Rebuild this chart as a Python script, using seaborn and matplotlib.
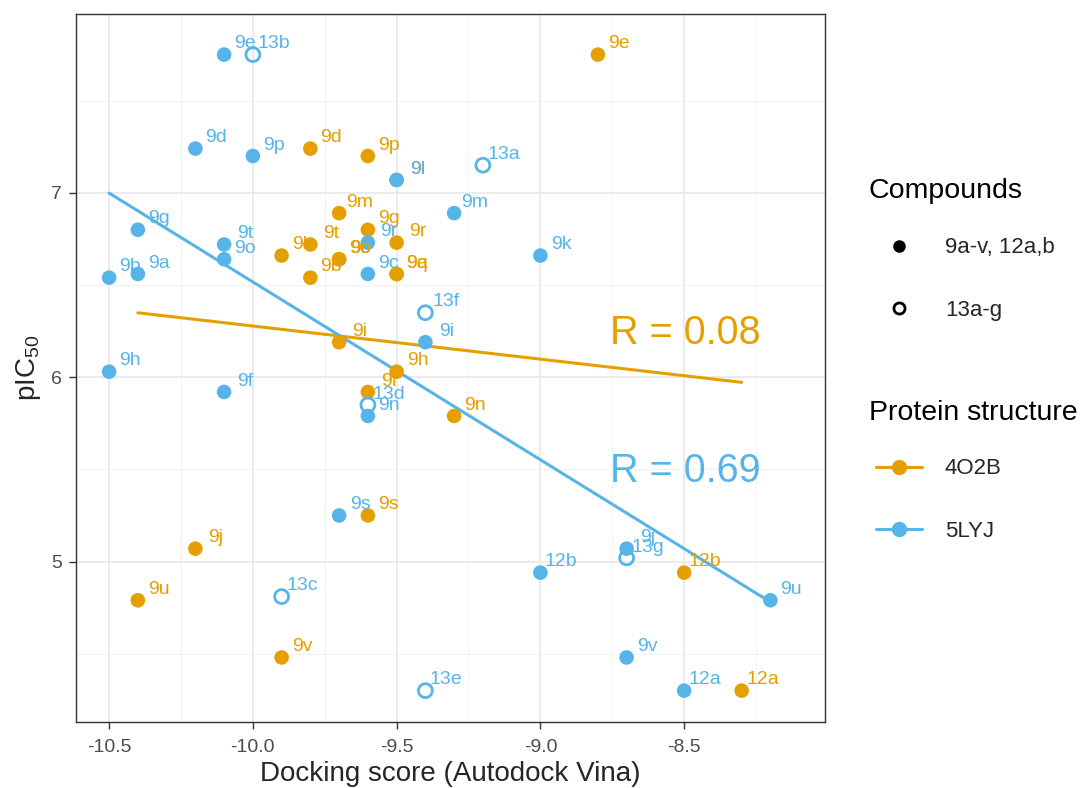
import pandas as pd
import matplotlib.pyplot as plt
import seaborn as sns
from matplotlib.lines import Line2D

# 5LYJ docking results (compound, score, pIC50)
lyj_names = ['9a', '9b', '9c', '9d', '9e', '9f', '9g', '9h', '9i', '9j', '9k', '9l', '9m', '9n', '9o', '9p',
             '9r', '9s', '9t', '9u', '9v', '12a', '12b',
             '13a', '13b', '13c', '13d', '13e', '13f', '13g']
lyj_score = [-10.4, -10.5, -9.6, -10.2, -10.1, -10.1, -10.4, -10.5, -9.4, -8.7, -9.0, -9.5, -9.3, -9.6, -10.1, -10.0,
             -9.6, -9.7, -10.1, -8.2, -8.7, -8.5, -9.0,
             -9.2, -10.0, -9.9, -9.6, -9.4, -9.4, -8.7]
lyj_pic50 = [6.56, 6.54, 6.56, 7.24, 7.75, 5.92, 6.80, 6.03, 6.19, 5.07, 6.66, 7.07, 6.89, 5.79, 6.64, 7.20,
             6.73, 5.25, 6.72, 4.79, 4.48, 4.30, 4.94,
             7.15, 7.75, 4.81, 5.85, 4.30, 6.35, 5.02]

# 4O2B docking results
o2b_names = ['9a', '9b', '9c', '9d', '9e', '9f', '9g', '9h', '9i', '9j', '9k', '9l', '9m', '9n', '9o', '9p',
             '9q', '9r', '9s', '9t', '9u', '9v', '12a', '12b']
o2b_score = [-9.5, -9.8, -9.7, -9.8, -8.8, -9.6, -9.6, -9.5, -9.7, -10.2, -9.9, -9.5, -9.7, -9.3, -9.7, -9.6,
             -9.5, -9.5, -9.6, -9.8, -10.4, -9.9, -8.3, -8.5]
o2b_pic50 = [6.56, 6.54, 6.64, 7.24, 7.75, 5.92, 6.80, 6.03, 6.19, 5.07, 6.66, 7.07, 6.89, 5.79, 6.64, 7.20,
             6.56, 6.73, 5.25, 6.72, 4.79, 4.48, 4.30, 4.94]

r_labels = {'4O2B': 'R = 0.08', '5LYJ': 'R = 0.69'}
colors = {'4O2B': '#E69F00', '5LYJ': '#56B4E9'}

df = pd.concat([
    pd.DataFrame({'name': o2b_names, 'score': o2b_score, 'pic50': o2b_pic50, 'structure': '4O2B'}),
    pd.DataFrame({'name': lyj_names, 'score': lyj_score, 'pic50': lyj_pic50, 'structure': '5LYJ'}),
], ignore_index=True)
df['open'] = df['name'].str.startswith('13')

sns.set_style('white')
plt.rcParams['font.family'] = ['Liberation Sans', 'DejaVu Sans']
plt.rcParams['mathtext.default'] = 'regular'

fig = plt.figure(figsize=(10.83, 7.88), dpi=100)
ax = fig.add_axes([0.0702, 0.0838, 0.6916, 0.8984])

# regression lines per protein structure
for s in ['4O2B', '5LYJ']:
    sub = df[df['structure'] == s]
    sns.regplot(data=sub, x='score', y='pic50', ax=ax, scatter=False, ci=None, truncate=True,
                color=colors[s], line_kws={'linewidth': 2.2, 'zorder': 3})

filled = df[~df['open']]
sns.scatterplot(data=filled, x='score', y='pic50', hue='structure', palette=colors, s=110,
                linewidth=0, ax=ax, legend=False, zorder=4)
for s in ['4O2B', '5LYJ']:
    sub = df[df['open'] & (df['structure'] == s)]
    ax.scatter(sub['score'], sub['pic50'], s=100, facecolors='none', edgecolors=colors[s],
               linewidths=2, zorder=4)

for _, row in df.iterrows():
    ax.annotate(row['name'], (row['score'], row['pic50']), xytext=(15, 4.5), textcoords='offset points',
                ha='center', va='baseline', fontsize=14, color=colors[row['structure']], zorder=5)

ax.text(-8.757, 6.24, r_labels['4O2B'], fontsize=28.5, color=colors['4O2B'], ha='left', va='center')
ax.text(-8.757, 5.49, r_labels['5LYJ'], fontsize=28.5, color=colors['5LYJ'], ha='left', va='center')

ax.set_xlim(-10.615, -8.01)
ax.set_ylim(4.13, 7.97)
ax.set_xticks([-10.5, -10.0, -9.5, -9.0, -8.5])
ax.set_xticklabels(['-10.5', '-10.0', '-9.5', '-9.0', '-8.5'])
ax.set_yticks([5, 6, 7])
ax.set_xticks([-10.25, -9.75, -9.25, -8.75, -8.25], minor=True)
ax.set_yticks([4.5, 5.5, 6.5, 7.5], minor=True)
ax.grid(True, which='major', color='#EBEBEB', linewidth=1.4)
ax.grid(True, which='minor', color='#F2F2F2', linewidth=0.8)
ax.set_axisbelow(True)
for sp in ax.spines.values():
    sp.set_color('#333333')
    sp.set_linewidth(1.0)
ax.tick_params(axis='both', which='major', length=5, width=1, color='#333333', labelsize=14,
               labelcolor='#4D4D4D', bottom=True, left=True)
ax.tick_params(axis='x', which='major', pad=7)
ax.tick_params(axis='y', which='major', pad=5)
ax.tick_params(axis='both', which='minor', length=0)
ax.set_xlabel('Docking score (Autodock Vina)', fontsize=20, labelpad=4)
ax.set_ylabel('pIC$_{50}$', fontsize=20, labelpad=6)

# legends: titles as figure text, entries as untitled legends
fig.text(0.8024, 0.7576, 'Compounds', fontsize=20.5, color='black', ha='left', va='center')
fig.text(0.8024, 0.4759, 'Protein structure', fontsize=20.5, color='black', ha='left', va='center')

comp_handles = [
    Line2D([], [], marker='o', linestyle='none', color='black', markersize=8),
    Line2D([], [], marker='o', linestyle='none', markerfacecolor='none', markeredgecolor='black',
           markeredgewidth=2, markersize=8),
]
leg1 = fig.legend(comp_handles, ['9a-v, 12a,b', '13a-g'], loc='center left',
                  bbox_to_anchor=(0.7987, 0.646), frameon=False, fontsize=16, borderpad=0,
                  labelspacing=1.86, handlelength=2.07, handletextpad=1.03)
struct_handles = [
    Line2D([], [], marker='o', color=colors[s], linewidth=2.2, markersize=10) for s in ['4O2B', '5LYJ']
]
leg2 = fig.legend(struct_handles, ['4O2B', '5LYJ'], loc='center left',
                  bbox_to_anchor=(0.7987, 0.3655), frameon=False, fontsize=16, borderpad=0,
                  labelspacing=1.86, handlelength=2.07, handletextpad=1.03)

fig.savefig('out.png', dpi=100)
